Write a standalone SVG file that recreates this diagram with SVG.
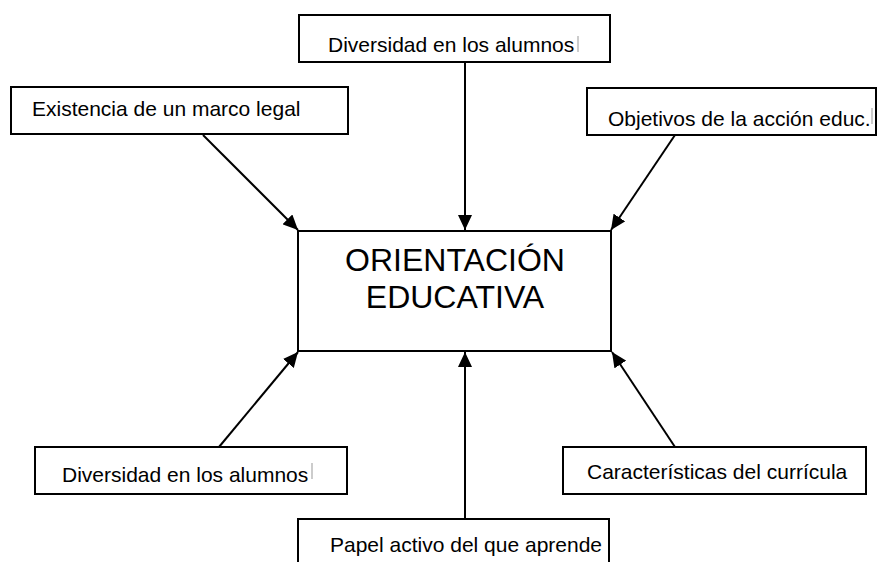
<svg xmlns="http://www.w3.org/2000/svg" width="887" height="562" viewBox="0 0 887 562">
<style>
.box{fill:#fff;stroke:#000;stroke-width:2}
.t{font-family:"Liberation Sans",Arial,sans-serif;font-size:21px;fill:#000}
.big{font-family:"Liberation Sans",Arial,sans-serif;font-size:32px;fill:#000;text-anchor:middle}
.c{stroke:#000;stroke-width:2;fill:none;marker-end:url(#ah)}
.mk{stroke:#999;stroke-width:1}
</style>
<defs>
<marker id="ah" markerWidth="15" markerHeight="14" viewBox="0 0 15 14" refX="15" refY="7" orient="auto" markerUnits="userSpaceOnUse">
<path d="M0,0 L15,7 L0,14 Z" fill="#000"/>
</marker>
</defs>
<rect width="887" height="562" fill="#fff"/>
<g id="connectors">
<line class="c" x1="203" y1="135" x2="298" y2="230"/>
<line class="c" x1="465" y1="62" x2="465" y2="230"/>
<line class="c" x1="675" y1="135" x2="611" y2="230"/>
<line class="c" x1="219" y1="447" x2="298" y2="352"/>
<line class="c" x1="465" y1="519" x2="465" y2="352"/>
<line class="c" x1="675" y1="447" x2="612" y2="352"/>
</g>
<g id="n-top">
<rect class="box" x="299" y="15" width="311" height="47"/>
<text class="t" x="328" y="52">Diversidad en los alumnos</text>
<line class="mk" x1="578" y1="36" x2="578" y2="52"/>
</g>
<g id="n-legal">
<rect class="box" x="11" y="87" width="337" height="47"/>
<text class="t" x="32" y="116">Existencia de un marco legal</text>
</g>
<g id="n-obj">
<rect class="box" x="587" y="88" width="289" height="47"/>
<text class="t" x="608" y="126">Objetivos de la acción educ.</text>
<line class="mk" x1="872" y1="108" x2="872" y2="124"/>
</g>
<g id="n-center">
<rect class="box" x="298" y="231" width="313" height="120"/>
<text class="big" x="455" y="271">ORIENTACIÓN</text>
<text class="big" x="455" y="308">EDUCATIVA</text>
</g>
<g id="n-div2">
<rect class="box" x="35" y="447" width="312" height="47"/>
<text class="t" x="62" y="482">Diversidad en los alumnos</text>
<line class="mk" x1="312" y1="463" x2="312" y2="479"/>
</g>
<g id="n-car">
<rect class="box" x="563" y="447" width="303" height="47"/>
<text class="t" x="587" y="479">Características del currícula</text>
</g>
<g id="n-papel">
<rect class="box" x="298" y="519" width="311" height="60"/>
<text class="t" x="330" y="552">Papel activo del que aprende</text>
</g>
</svg>
